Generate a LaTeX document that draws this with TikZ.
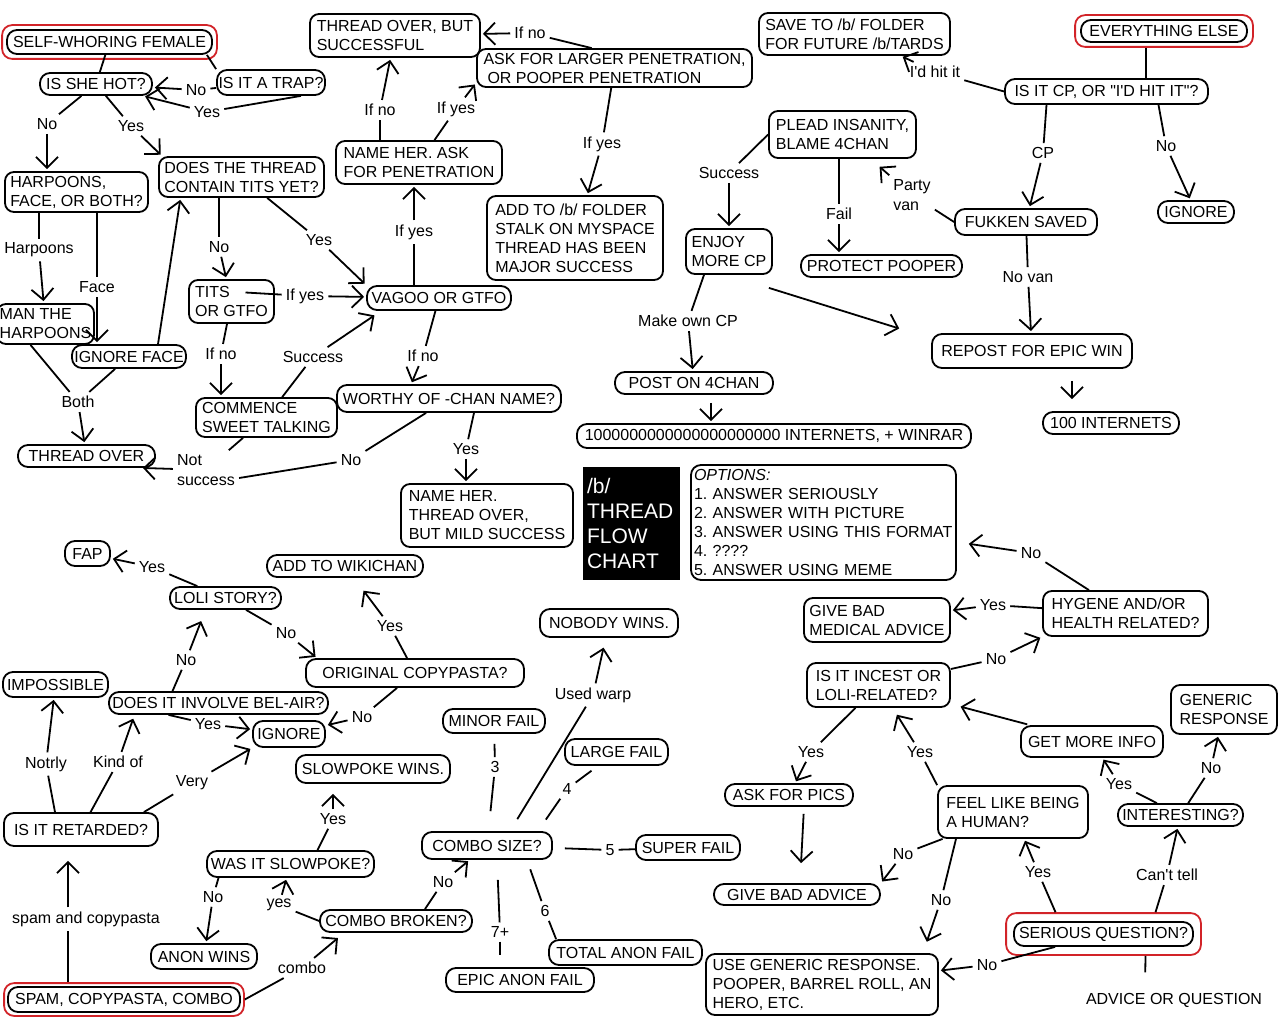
\documentclass[tikz,border=0pt]{standalone}
\usepackage{fontspec}
\setmainfont{Liberation Sans}[Ligatures=TeXOff]
\usetikzlibrary{arrows.meta,fit}
\definecolor{hl}{RGB}{210,35,40}
\frenchspacing
\tikzset{
  pill/.style={draw, line width=1.8pt, rounded corners=10pt, inner sep=1pt, align=center},
  box/.style={draw, line width=1.8pt, rounded corners=9pt, inner sep=3pt, align=left},
  lbl/.style={font=\fontsize{16}{20}\selectfont, inner sep=4pt, align=left},
  ln/.style={line width=1.8pt},
  arr/.style={line width=1.8pt, -{Straight Barb[length=11pt,width=22pt]}, shorten >=2pt},
  redbox/.style={draw=hl, line width=1.8pt, rounded corners=10pt}
}
\begin{document}
\frenchspacing
\begin{tikzpicture}[x=1pt,y=-1pt, every node/.style={font=\fontsize{16}{19}\selectfont}]
\useasboundingbox (0,0) rectangle (1280,1024);
\fill[white] (0,0) rectangle (1280,1024);

% ---------- nodes ----------
\node[pill, minimum width=205pt, minimum height=24pt] (self) at (109.5,42) {SELF-WHORING FEMALE};
\node[redbox, fit=(self), inner xsep=4pt, inner ysep=4pt] (selfR) {};
\node[pill, minimum width=112pt, minimum height=22pt] (hot) at (96,84) {IS SHE HOT?};
\node[pill, minimum width=108pt, minimum height=25pt] (trap) at (271,82.5) {IS IT A TRAP?};
\node[box, minimum width=143pt, minimum height=40pt] (harp) at (76.5,192) {HARPOONS,\\FACE, OR BOTH?};
\node[box, minimum width=165pt, minimum height=40pt] (dt) at (241.5,177) {DOES THE THREAD\\CONTAIN TITS YET?};
\node[box, minimum width=170pt, minimum height=43pt] (overbut) at (395,35.5) {THREAD OVER, BUT\\SUCCESSFUL};
\node[box, minimum width=275pt, minimum height=38pt] (larger) at (614.5,68) {ASK FOR LARGER PENETRATION,\\\hspace*{4pt}OR POOPER PENETRATION};
\node[box, minimum width=166pt, minimum height=43pt] (nameask) at (419,162.5) {NAME HER. ASK\\FOR PENETRATION};
\node[box, minimum width=176pt, minimum height=84pt] (addb) at (575,238) {ADD TO /b/ FOLDER\\STALK ON MYSPACE\\THREAD HAS BEEN\\MAJOR SUCCESS};
\node[box, minimum width=191pt, minimum height=42pt] (save) at (854.5,34) {SAVE TO /b/ FOLDER\\FOR FUTURE /b/TARDS};
\node[pill, minimum width=166pt, minimum height=22pt] (else) at (1164,31) {EVERYTHING ELSE};
\node[redbox, fit=(else), inner xsep=5pt, inner ysep=4pt] (elseR) {};
\node[pill, minimum width=203pt, minimum height=25pt] (cp) at (1106.5,91.5) {IS IT CP, OR "I'D HIT IT"?};
\node[box, minimum width=147pt, minimum height=47pt] (plead) at (842.5,134.5) {PLEAD INSANITY,\\BLAME 4CHAN};
\node[pill, minimum width=142pt, minimum height=26pt] (fukken) at (1026,222) {FUKKEN SAVED};
\node[pill, minimum width=76pt, minimum height=22pt] (ign1) at (1196,212) {IGNORE};
\node[pill, minimum width=161pt, minimum height=22pt] (protect) at (881.5,266) {PROTECT POOPER};
\node[box, minimum width=86pt, minimum height=45pt] (enjoy) at (729,251.5) {ENJOY\\MORE CP};
\node[box, minimum width=85pt, minimum height=43pt] (tits) at (231.5,301.5) {TITS\\OR GTFO};
\node[pill, minimum width=144pt, minimum height=24pt] (vagoo) at (439,298) {VAGOO OR GTFO};
\node[box, minimum width=97pt, minimum height=40pt, inner sep=1pt] (man) at (45.5,324) {MAN THE\\HARPOONS};
\node[pill, minimum width=114pt, minimum height=23pt] (ignface) at (129,356.5) {IGNORE FACE};
\node[box, minimum width=141pt, minimum height=39pt] (commence) at (266.5,417.5) {COMMENCE\\SWEET TALKING};
\node[pill, minimum width=224pt, minimum height=27pt] (worthy) at (449,398.5) {WORTHY OF -CHAN NAME?};
\node[pill, minimum width=137pt, minimum height=22pt] (tover) at (86.5,456) {THREAD OVER};
\node[box, minimum width=172pt, minimum height=63pt] (namemild) at (487,515.5) {NAME HER.\\THREAD OVER,\\BUT MILD SUCCESS};
\node[pill, minimum width=158pt, minimum height=22pt] (post) at (694,383) {POST ON 4CHAN};
\node[pill, minimum width=394pt, minimum height=24pt] (internets) at (774,436) {1000000000000000000000 INTERNETS, + WINRAR};
\node[pill, minimum width=200pt, minimum height=34pt] (repost) at (1032,351) {REPOST FOR EPIC WIN};
\node[pill, minimum width=136pt, minimum height=22pt] (hundred) at (1111,423) {100 INTERNETS};
\node[fill=black, text=white, minimum width=97pt, minimum height=113pt, text width=89pt, align=left, inner sep=4pt, font=\fontsize{21}{25}\selectfont] (title) at (631.5,523.5) {/b/\\THREAD\\FLOW\\CHART};
\node[box, rounded corners=10pt, minimum width=265pt, minimum height=115pt, text width=259pt, inner xsep=3pt, inner ysep=0pt] (opt) at (823.5,522.5) {\textit{OPTIONS:}\\1. ANSWER SERIOUSLY\\2. ANSWER WITH PICTURE\\3. ANSWER USING THIS FORMAT\\4. ????\\5. ANSWER USING MEME};
\node[pill, minimum width=45pt, minimum height=25pt] (fap) at (87.5,553.5) {FAP};
\node[pill, minimum width=156pt, minimum height=22pt] (wiki) at (345,566) {ADD TO WIKICHAN};
\node[pill, minimum width=111pt, minimum height=22pt] (loli) at (225.5,598) {LOLI STORY?};
\node[pill, minimum width=138pt, minimum height=28pt] (nobody) at (609,623) {NOBODY WINS.};
\node[pill, minimum width=218pt, minimum height=28pt] (orig) at (415,673) {ORIGINAL COPYPASTA?};
\node[pill, minimum width=105pt, minimum height=25pt] (impossible) at (55.5,684.5) {IMPOSSIBLE};
\node[pill, minimum width=219pt, minimum height=22pt] (belair) at (218.5,703) {DOES IT INVOLVE BEL-AIR?};
\node[pill, minimum width=72pt, minimum height=26pt] (ign2) at (289,734) {IGNORE};
\node[pill, minimum width=102pt, minimum height=24pt] (minor) at (494,721) {MINOR FAIL};
\node[box, minimum width=146pt, minimum height=44pt] (medical) at (877,620) {GIVE BAD\\MEDICAL ADVICE};
\node[box, minimum width=165pt, minimum height=45pt] (hygene) at (1125.5,613.5) {HYGENE AND/OR\\HEALTH RELATED?};
\node[box, minimum width=143pt, minimum height=44pt] (incest) at (878.5,685) {IS IT INCEST OR\\LOLI-RELATED?};
\node[box, minimum width=106pt, minimum height=49pt] (generic) at (1224,709.5) {GENERIC\\RESPONSE};
\node[pill, minimum width=142pt, minimum height=31pt] (moreinfo) at (1092,741.5) {GET MORE INFO};
\node[pill, minimum width=103pt, minimum height=26pt] (large) at (616.5,752) {LARGE FAIL};
\node[pill, minimum width=154pt, minimum height=28pt] (slowwins) at (373,769) {SLOWPOKE WINS.};
\node[pill, minimum width=128pt, minimum height=22pt] (pics) at (789,795) {ASK FOR PICS};
\node[box, minimum width=150pt, minimum height=52pt] (human) at (1013,812) {FEEL LIKE BEING\\A HUMAN?};
\node[pill, minimum width=125pt, minimum height=22pt] (interesting) at (1180.5,815) {INTERESTING?};
\node[pill, minimum width=154pt, minimum height=33pt] (retarded) at (81,829.5) {IS IT RETARDED?};
\node[pill, minimum width=130pt, minimum height=27pt] (combosize) at (487,845.5) {COMBO SIZE?};
\node[pill, minimum width=104pt, minimum height=25pt] (super) at (688,847.5) {SUPER FAIL};
\node[pill, minimum width=167pt, minimum height=26pt] (wasslow) at (290.5,864) {WAS IT SLOWPOKE?};
\node[pill, minimum width=166pt, minimum height=21pt] (badadvice) at (797,894.5) {GIVE BAD ADVICE};
\node[pill, minimum width=152pt, minimum height=22pt] (broken) at (396,921) {COMBO BROKEN?};
\node[pill, minimum width=106pt, minimum height=25pt] (anonwins) at (204,956.5) {ANON WINS};
\node[pill, minimum width=153pt, minimum height=25pt] (total) at (625.5,952.5) {TOTAL ANON FAIL};
\node[pill, minimum width=148pt, minimum height=24pt] (epic) at (520,980) {EPIC ANON FAIL};
\node[box, minimum width=232pt, minimum height=61pt] (usegeneric) at (822,984.5) {USE GENERIC RESPONSE.\\POOPER, BARREL ROLL, AN\\HERO, ETC.};
\node[pill, minimum width=179pt, minimum height=24pt] (serious) at (1103.5,934) {SERIOUS QUESTION?};
\node[redbox, fit=(serious), inner xsep=7pt, inner ysep=8pt] (seriousR) {};
\node[pill, minimum width=232pt, minimum height=25pt] (spam) at (124,999.5) {SPAM, COPYPASTA, COMBO};
\node[redbox, fit=(spam), inner xsep=3pt, inner ysep=3pt] (spamR) {};
\node (advice) at (1174,1000) {ADVICE OR QUESTION};

% ---------- labels ----------
\node[lbl] (Ltrapno) at (196,90) {No};
\node[lbl] (Ltrapyes) at (207,112) {Yes};
\node[lbl] (Lhotno) at (47,124) {No};
\node[lbl] (Lhotyes) at (131,126) {Yes};
\node[lbl] (Lharp) at (39,250) {Harpoons};
\node[lbl] (Lface) at (97,287) {Face};
\node[lbl] (Lboth) at (78,402) {Both};
\node[lbl] (Ldtno) at (219,247) {No};
\node[lbl] (Ldtyes) at (319,240) {Yes};
\node[lbl] (Ltitsyes) at (305,296) {If yes};
\node[lbl] (Ltitsno) at (221,354) {If no};
\node[lbl] (Lsucc) at (313,357) {Success};
\node[lbl] (Lvyes) at (414,232) {If yes};
\node[lbl] (Lvno) at (423,356) {If no};
\node[lbl] (Lnano) at (380,110) {If no};
\node[lbl] (Lnayes) at (456,109) {If yes};
\node[lbl] (Llno) at (530,33) {If no};
\node[lbl] (Llyes) at (602,144) {If yes};
\node[lbl] (Lhit) at (935,72) {I'd hit it};
\node[lbl] (Lcp) at (1043,153) {CP};
\node[lbl] (Lcpno) at (1166,146) {No};
\node[lbl] (Lparty) at (912,195) {Party\\van};
\node[lbl] (Lfail) at (839,214) {Fail};
\node[lbl] (Lsucc2) at (729,173) {Success};
\node[lbl] (Lnovan) at (1028,277) {No van};
\node[lbl] (Lmake) at (688,321) {Make own CP};
\node[lbl] (Lwyes) at (466,449) {Yes};
\node[lbl] (Lwno) at (351,460) {No};
\node[lbl] (Lnotsucc) at (206,470) {Not\\success};
\node[lbl] (Lhno) at (1031,553) {No};
\node[lbl] (Lhyes) at (993,605) {Yes};
\node[lbl] (Linno) at (996,659) {No};
\node[lbl] (Linyes) at (811,752) {Yes};
\node[lbl] (Lhuyes) at (920,752) {Yes};
\node[lbl] (Liyes) at (1119,784) {Yes};
\node[lbl] (Lino) at (1211,768) {No};
\node[lbl] (Lcant) at (1167,875) {Can't tell};
\node[lbl] (Lsyes) at (1038,872) {Yes};
\node[lbl] (Lsno) at (987,965) {No};
\node[lbl] (Lhuno1) at (903,854) {No};
\node[lbl] (Lhuno2) at (941,900) {No};
\node[lbl] (Llyes2) at (152,567) {Yes};
\node[lbl] (Llno2) at (286,633) {No};
\node[lbl] (Loyes) at (390,626) {Yes};
\node[lbl] (Lono) at (362,717) {No};
\node[lbl] (Lbno) at (186,660) {No};
\node[lbl] (Lbyes) at (208,724) {Yes};
\node[lbl] (Lnotrly) at (46,764) {Notrly};
\node[lbl] (Lkind) at (118,762) {Kind of};
\node[lbl] (Lvery) at (192,783) {Very};
\node[lbl] (Lspam) at (86,919) {spam and copypasta};
\node[lbl] (Lcombo) at (302,968) {combo};
\node[lbl] (Lbyes2) at (279,905) {yes};
\node[lbl] (Lwsno) at (213,897) {No};
\node[lbl] (Lwsyes) at (333,819) {Yes};
\node[lbl] (Lbrno) at (443,882) {No};
\node[lbl] (L3) at (495,767) {3};
\node[lbl] (L4) at (567,789) {4};
\node[lbl] (Lwarp) at (593,695) {Used warp};
\node[lbl] (L5) at (610,850) {5};
\node[lbl] (L6) at (545,911) {6};
\node[lbl] (L7) at (500,932) {7+};

% ---------- connectors: top left ----------
\draw[ln] (self) -- (hot);
\draw[ln] ([xshift=-6pt]self.south east) -- (trap.north west);
\draw[ln] (trap) -- (Ltrapno);
\draw[arr] (Ltrapno) -- (hot);
\draw[ln] ([xshift=-25pt]trap.south east) -- (Ltrapyes);
\draw[arr] (Ltrapyes) -- (hot);
\draw[ln] (hot) -- (Lhotno);
\draw[arr] (Lhotno) -- (Lhotno |- harp.north);
\draw[ln] (hot) -- (Lhotyes);
\draw[arr] (Lhotyes) -- ([xshift=4pt]dt.north west);
\draw[ln] (harp.south -| Lharp) -- (Lharp);
\draw[arr] (Lharp) -- (man);
\draw[ln] (harp.south -| Lface) -- (Lface);
\draw[arr] (Lface) -- (Lface |- ignface.north);
\draw[ln] ([xshift=-15pt]man.south) -- (Lboth);
\draw[ln] (ignface) -- (Lboth);
\draw[arr] (Lboth) -- (tover);
\draw[arr] ([xshift=29pt]ignface.north) -- ([xshift=-61pt]dt.south);
\draw[ln] (dt.south -| Ldtno) -- (Ldtno);
\draw[arr] (Ldtno) -- (tits);
\draw[ln] (dt) -- (Ldtyes);
\draw[arr] (Ldtyes) -- (vagoo.north west);
\draw[ln] ([xshift=14pt,yshift=9pt]tits.center) -- (Ltitsyes);
\draw[arr] (Ltitsyes) -- (vagoo);
\draw[ln] (tits) -- (Ltitsno);
\draw[arr] (Ltitsno) -- (Ltitsno |- commence.north);
\draw[ln] (commence) -- (Lsucc);
\draw[arr, shorten >=8pt] (Lsucc) -- ([xshift=15pt]vagoo.south west);
\draw[ln] (vagoo.north -| Lvyes) -- (Lvyes);
\draw[arr] (Lvyes) -- (nameask.south -| Lvyes);
\draw[ln] (vagoo) -- (Lvno);
\draw[arr] (Lvno) -- ([xshift=75pt]worthy.north west);
\draw[ln] (nameask.north -| Lnano) -- (Lnano);
\draw[arr] (Lnano) -- (overbut);
\draw[ln] (nameask) -- (Lnayes);
\draw[arr] (Lnayes) -- ([yshift=5pt]larger.south west);
\draw[ln] (larger.139) -- (Llno);
\draw[arr] (Llno) -- (overbut);
\draw[ln] (larger) -- (Llyes);
\draw[arr] (Llyes) -- (addb);
\draw[ln] (worthy) -- (Lwno);
\draw[ln] (Lwno) -- ([yshift=-8pt]Lnotsucc.east);
\draw[ln] (commence) -- (Lnotsucc);
\draw[arr] (Lnotsucc) -- ([xshift=-15pt]tover.south east);
\draw[ln] ([xshift=25pt]worthy.south) -- (Lwyes);
\draw[arr] (Lwyes) -- (namemild.north -| Lwyes);

% ---------- top right ----------
\draw[ln] (cp.west) -- (Lhit);
\draw[arr] (Lhit) -- (save);
\draw[ln] ([xshift=-18pt]elseR.south) -- ([xshift=39.5pt]cp.north);
\draw[ln] ([xshift=-60pt]cp.south) -- (Lcp);
\draw[arr] (Lcp) -- (fukken);
\draw[ln] ([xshift=52pt]cp.south) -- (Lcpno);
\draw[arr] (Lcpno) -- (ign1);
\draw[ln] (fukken.west) -- (Lparty);
\draw[arr, shorten >=12pt] (Lparty) -- (plead);
\draw[ln] (plead.south -| Lfail) -- (Lfail);
\draw[arr] (Lfail) -- (protect.north -| Lfail);
\draw[ln] (plead.west) -- (Lsucc2);
\draw[arr] (Lsucc2) -- (enjoy);
\draw[ln] (fukken) -- (Lnovan);
\draw[arr] (Lnovan) -- (repost);
\draw[arr] ([xshift=-4pt,yshift=-13pt]enjoy.south east) -- ([xshift=-30pt,yshift=4pt]repost.north west);
\draw[ln] ([xshift=-25pt]enjoy.south) -- (Lmake);
\draw[arr] (Lmake) -- (post);
\draw[arr, shorten <=8pt] ([xshift=17pt]post.south) -- ([xshift=-63pt]internets.north);
\draw[arr, shorten <=12pt, shorten >=12pt] ([xshift=40pt]repost.south) -- ([xshift=-39pt]hundred.north);

% ---------- right middle ----------
\draw[ln] (hygene) -- (Lhno);
\draw[arr, shorten >=12pt] (Lhno) -- (opt);
\draw[ln] (hygene) -- (Lhyes);
\draw[arr] (Lhyes) -- (medical);
\draw[ln] (incest) -- (Linno);
\draw[arr] (Linno) -- (hygene.south west);
\draw[ln] (incest) -- (Linyes);
\draw[arr] (Linyes) -- (pics);
\draw[ln] (human.north west) -- (Lhuyes);
\draw[arr, shorten >=8pt] (Lhuyes) -- (incest);
\draw[arr, shorten <=3pt, shorten >=10pt] (moreinfo) -- (incest);
\draw[ln] (interesting) -- (Liyes);
\draw[arr] (Liyes) -- (moreinfo);
\draw[ln] (interesting) -- (Lino);
\draw[arr] (Lino) -- (generic);
\draw[ln] ([xshift=52pt]seriousR.north) -- (Lcant);
\draw[arr] (Lcant) -- (interesting);
\draw[ln] ([xshift=-48pt]seriousR.north) -- (Lsyes);
\draw[arr] (Lsyes) -- (human);
\draw[ln] (serious) -- (Lsno);
\draw[arr] (Lsno) -- (usegeneric);
\draw[ln, shorten <=17pt] ([xshift=-29pt]advice.north) -- ([xshift=42pt]seriousR.south);
\draw[ln] (human) -- (Lhuno1);
\draw[arr] (Lhuno1) -- (badadvice.north east);
\draw[ln] ([xshift=-57pt]human.south) -- (Lhuno2);
\draw[arr, shorten >=12pt] (Lhuno2) -- ([xshift=-16pt]usegeneric.north east);
\draw[arr, shorten <=7pt, shorten >=20pt] ([xshift=15pt]pics.south) -- ([xshift=3pt]badadvice.north);

% ---------- bottom left ----------
\draw[ln] (loli) -- (Llyes2);
\draw[arr] (Llyes2) -- (fap);
\draw[ln] (loli) -- (Llno2);
\draw[arr] (Llno2) -- ([xshift=12pt]orig.north west);
\draw[ln] (orig) -- (Loyes);
\draw[arr, shorten >=16pt] (Loyes) -- (wiki);
\draw[ln] (orig) -- (Lono);
\draw[arr] (Lono) -- (ign2);
\draw[ln] ([xshift=-46pt]belair.north) -- (Lbno);
\draw[arr, shorten >=12pt] (Lbno) -- ([xshift=-20pt]loli.south);
\draw[ln] ([xshift=-50pt]belair.south) -- (Lbyes);
\draw[arr] (Lbyes) -- (ign2);
\draw[ln] ([xshift=-26pt]retarded.north) -- (Lnotrly);
\draw[arr] (Lnotrly) -- (impossible);
\draw[ln] (retarded) -- (Lkind);
\draw[arr, shorten >=4pt] (Lkind) -- ([xshift=-84pt]belair.south);
\draw[ln] ([xshift=-15pt]retarded.north east) -- (Lvery);
\draw[arr] (Lvery) -- (ign2.south west);
\draw[ln] ([xshift=-56pt]spamR.north) -- ([xshift=-18pt]Lspam.south);
\draw[arr, shorten >=14pt] ([xshift=-18pt]Lspam.north) -- ([xshift=-13pt]retarded.south);
\draw[ln] (spamR.east) -- (Lcombo);
\draw[arr, shorten >=8pt] (Lcombo) -- ([xshift=25pt]broken.south west);
\draw[ln] (broken.west) -- (Lbyes2);
\draw[arr] (Lbyes2) -- (wasslow);
\draw[ln] ([xshift=-72pt]wasslow.south) -- (Lwsno);
\draw[arr] (Lwsno) -- (anonwins);
\draw[ln] ([xshift=27pt]wasslow.north) -- (Lwsyes);
\draw[arr, shorten >=10pt] (Lwsyes) -- (slowwins.south -| Lwsyes);
\draw[ln] ([xshift=29pt]broken.north) -- (Lbrno);
\draw[arr] (Lbrno) -- (combosize);

% ---------- combo size ----------
\draw[ln, shorten <=20pt] (combosize) -- (L3);
\draw[ln, shorten >=10pt] (L3) -- (minor);
\draw[ln, shorten <=14pt] ([xshift=-15pt]combosize.north east) -- (L4);
\draw[ln, shorten >=8pt] (L4) -- (large);
\draw[ln, shorten <=14pt] ([xshift=23pt]combosize.north) -- (Lwarp);
\draw[arr, shorten >=10pt] (Lwarp) -- (nobody);
\draw[ln, shorten <=12pt] (combosize) -- (L5);
\draw[ln] (L5) -- (super);
\draw[ln, shorten <=10pt] ([xshift=-26pt]combosize.south east) -- (L6);
\draw[ln] (L6) -- ([xshift=8pt]total.north west);
\draw[ln, shorten <=20pt] ([xshift=10pt]combosize.south) -- (L7);
\draw[ln, shorten >=12pt] (L7) -- (epic.north -| L7);
\end{tikzpicture}
\end{document}
